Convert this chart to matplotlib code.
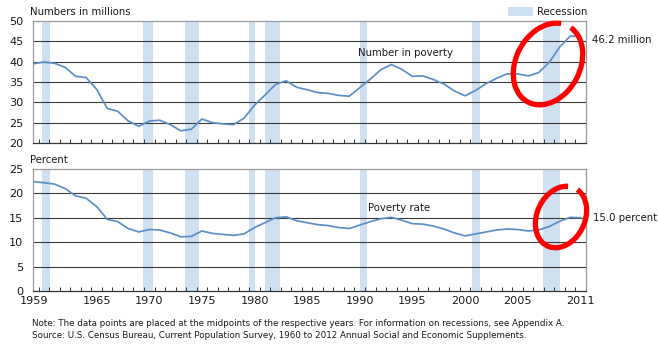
import matplotlib
matplotlib.use("Agg")
import matplotlib.pyplot as plt
from matplotlib.patches import Arc, Rectangle
from matplotlib.transforms import IdentityTransform
import numpy as np

years = list(range(1959, 2012))
number_in_poverty = [39.5, 39.9, 39.6, 38.6, 36.4, 36.1, 33.2, 28.5, 27.8, 25.4,
                     24.1, 25.4, 25.6, 24.5, 23.0, 23.4, 25.9, 25.0, 24.7, 24.5,
                     26.1, 29.3, 31.8, 34.4, 35.3, 33.7, 33.1, 32.4, 32.2, 31.7,
                     31.5, 33.6, 35.7, 38.0, 39.3, 38.1, 36.4, 36.5, 35.6, 34.5,
                     32.8, 31.6, 32.9, 34.6, 35.9, 37.0, 37.0, 36.5, 37.3, 39.8,
                     43.6, 46.3, 46.2]
poverty_rate = [22.4, 22.2, 21.9, 21.0, 19.5, 19.0, 17.3, 14.7, 14.2, 12.8,
                12.1, 12.6, 12.5, 11.9, 11.1, 11.2, 12.3, 11.8, 11.6, 11.4,
                11.7, 13.0, 14.0, 15.0, 15.2, 14.4, 14.0, 13.6, 13.4, 13.0,
                12.8, 13.5, 14.2, 14.8, 15.1, 14.5, 13.8, 13.7, 13.3, 12.7,
                11.9, 11.3, 11.7, 12.1, 12.5, 12.7, 12.6, 12.3, 12.5, 13.2,
                14.3, 15.1, 15.0]
# recession periods (start, end) in decimal years
recessions = [(1960.3, 1961.1), (1969.95, 1970.9), (1973.9, 1975.2),
              (1980.0, 1980.55), (1981.5, 1982.9), (1990.5, 1991.2),
              (2001.2, 2001.9), (2007.92, 2009.5)]
xtick_years = [1959, 1965, 1970, 1975, 1980, 1985, 1990, 1995, 2000, 2005, 2011]
top_yticks = [20, 25, 30, 35, 40, 45, 50]
bot_yticks = [0, 5, 10, 15, 20, 25]

LINE = '#5b8fc8'
REC = '#cfe0f1'
GRID = '#3a3a3a'
FRAME = '#9a9a9a'
TXT = '#1a1a1a'
FS = 7.3

fig = plt.figure(figsize=(6.58, 3.45), dpi=100)
W, H = 658, 345

def axes_px(l, t, r, b):
    return fig.add_axes([l / W, 1 - b / H, (r - l) / W, (b - t) / H])

ax1 = axes_px(33, 21, 586, 143)
ax2 = axes_px(33, 169, 586, 291)

xmid = [y + 0.5 for y in years]
for ax, vals, yt in [(ax1, number_in_poverty, top_yticks), (ax2, poverty_rate, bot_yticks)]:
    for s, e in recessions:
        ax.axvspan(s, e, color=REC, lw=0, zorder=0)
    ax.set_ylim(yt[0], yt[-1])
    ax.set_xlim(1959.45, 2012.0)
    ax.set_yticks(yt)
    for v in yt[1:-1]:
        ax.axhline(v, color=GRID, lw=0.8, zorder=1)
    ax.plot(xmid, vals, color=LINE, lw=1.25, zorder=3, solid_capstyle='round')
    for sp in ax.spines.values():
        sp.set_color(FRAME)
        sp.set_linewidth(0.9)
    ax.spines['bottom'].set_color('#333333')
    ax.set_xticks(range(1960, 2012), minor=True)
    ax.set_xticks([y + 0.5 for y in xtick_years])
    ax.tick_params(axis='x', which='minor', direction='in', length=3, color='#333333', width=0.7)
    ax.tick_params(axis='x', which='major', length=0, pad=3.5)
    ax.tick_params(axis='y', length=0, pad=7, labelsize=FS + 0.8, labelcolor=TXT)
    ax.set_facecolor('white')

ax1.set_xticklabels([])
ax2.set_xticklabels([str(y) for y in xtick_years], fontsize=FS + 0.8, color=TXT)

# titles
fig.text(30 / W, 1 - 12 / H, 'Numbers in millions', fontsize=FS, color=TXT, va='center', ha='left')
fig.text(30 / W, 1 - 160 / H, 'Percent', fontsize=FS, color=TXT, va='center', ha='left')

# legend
fig.patches.append(Rectangle((508 / W, 1 - 16 / H), 25 / W, 9 / H, transform=fig.transFigure,
                             color=REC, lw=0))
fig.text(537 / W, 1 - 12 / H, 'Recession', fontsize=FS, color=TXT, va='center', ha='left')

# series labels
ax1.text(1990.3, 42.1, 'Number in poverty', fontsize=FS, color=TXT, va='center', ha='left')
ax2.text(1991.3, 17.0, 'Poverty rate', fontsize=FS, color=TXT, va='center', ha='left')
fig.text(592 / W, 1 - 40 / H, f'{number_in_poverty[-1]:.1f} million', fontsize=FS, color=TXT,
         va='center', ha='left')
fig.text(593 / W, 1 - 218 / H, f'{poverty_rate[-1]:.1f} percent', fontsize=FS, color=TXT,
         va='center', ha='left')

# notes
fig.text(32 / W, 1 - 323 / H,
         'Note: The data points are placed at the midpoints of the respective years. '
         'For information on recessions, see Appendix A.',
         fontsize=6.3, color=TXT, va='center', ha='left')
fig.text(32 / W, 1 - 336 / H,
         'Source: U.S. Census Bureau, Current Population Survey, 1960 to 2012 Annual Social '
         'and Economic Supplements.',
         fontsize=6.3, color=TXT, va='center', ha='left')

# red hand-drawn circles (pixel coordinates, origin bottom-left)
idt = IdentityTransform()
fig.patches.append(Arc((548, H - 64), 86, 64, angle=62,
                       theta1=10, theta2=356, color='red', lw=3.8, transform=idt))
fig.patches.append(Arc((561, H - 217), 64, 48, angle=65,
                       theta1=12, theta2=354, color='red', lw=3.8, transform=idt))

fig.savefig('out.png', dpi=100)
